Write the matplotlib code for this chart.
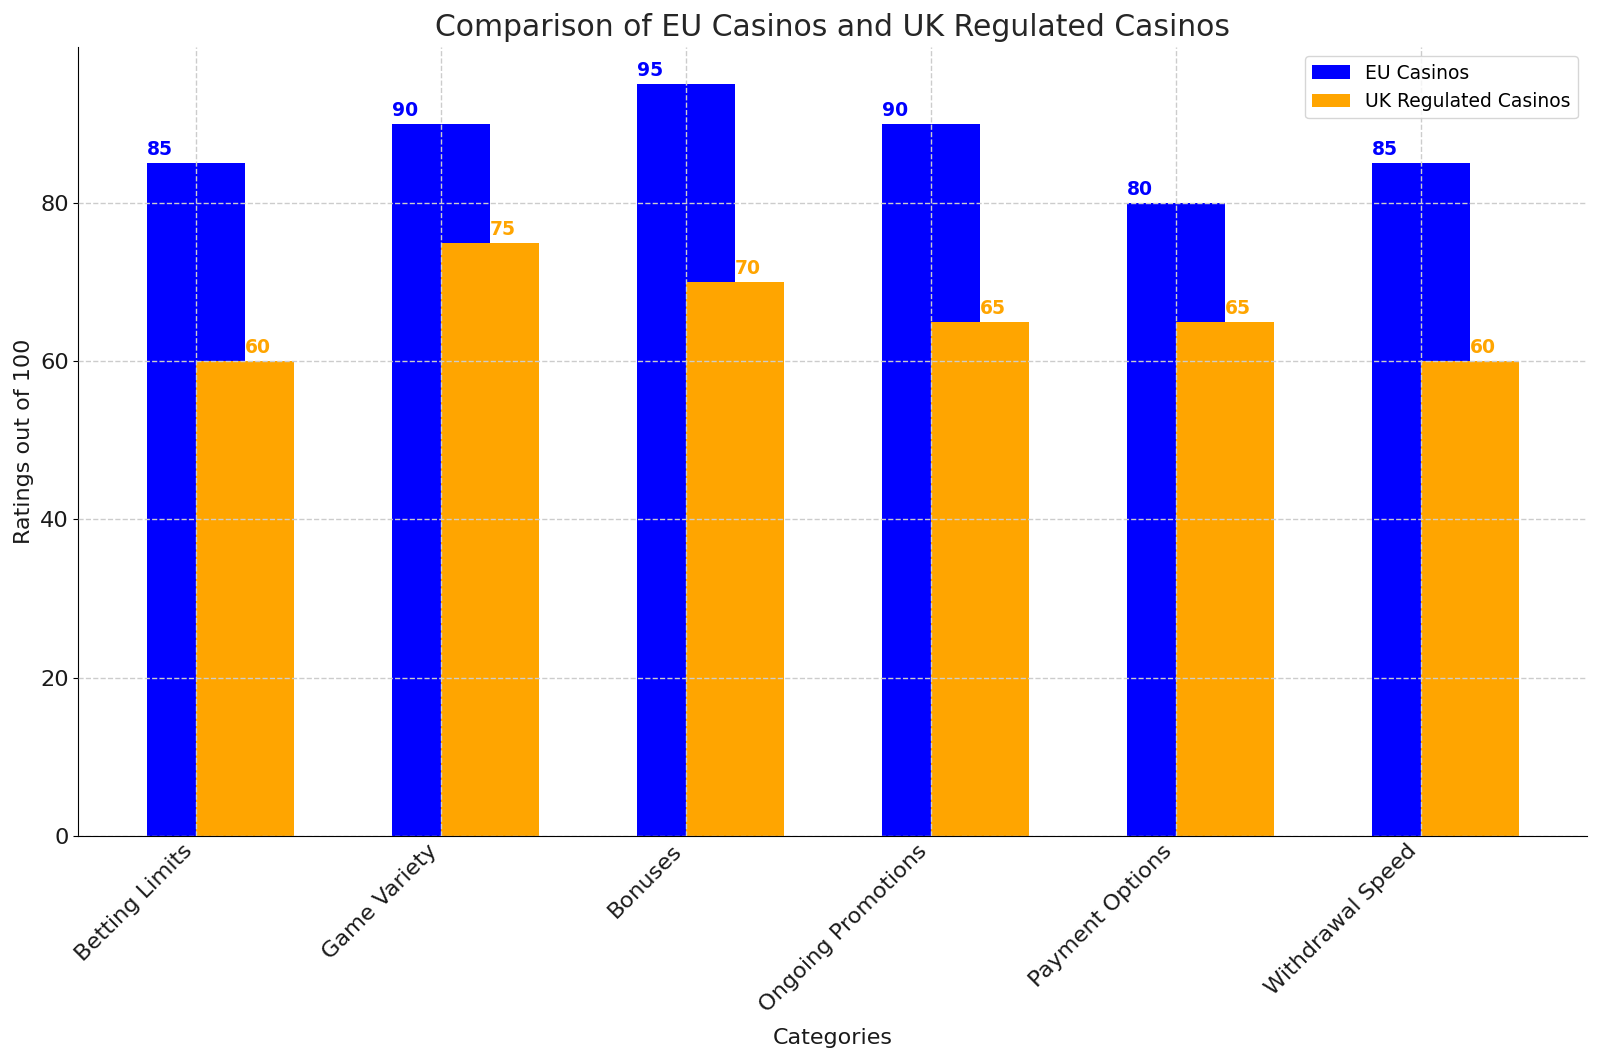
import numpy as np
import matplotlib.pyplot as plt

categories = ['Betting Limits', 'Game Variety', 'Bonuses', 'Ongoing Promotions',
              'Payment Options', 'Withdrawal Speed']
eu_casinos = [85, 90, 95, 90, 80, 85]
uk_casinos = [60, 75, 70, 65, 65, 60]

x = np.arange(len(categories))
width = 0.4

fig, ax = plt.subplots(figsize=(16, 10.62), dpi=100)
fig.subplots_adjust(left=0.049, right=0.992, bottom=0.213, top=0.956)

ax.bar(x, eu_casinos, width, color='blue', label='EU Casinos')
ax.bar(x + width / 2, uk_casinos, width, color='orange', label='UK Regulated Casinos')

# value labels
for i in range(len(categories)):
    ax.text(x[i] - width / 2, eu_casinos[i] + 0.5, str(eu_casinos[i]), color='blue',
            fontweight='bold', fontsize=13.5, ha='left', va='bottom')
    ax.text(x[i] + width / 2, uk_casinos[i] + 0.5, str(uk_casinos[i]), color='orange',
            fontweight='bold', fontsize=13.5, ha='left', va='bottom')

ax.set_title('Comparison of EU Casinos and UK Regulated Casinos', fontsize=21.5, color='#262626', pad=8)
ax.set_xlabel('Categories', fontsize=16, color='#1a1a1a', labelpad=9)
ax.set_ylabel('Ratings out of 100', fontsize=16, color='#1a1a1a')
ax.set_xticks(x)
ax.set_xticklabels(categories, rotation=45, ha='right', fontsize=16.2, color='#1a1a1a')
ax.tick_params(axis='y', labelsize=16.2, labelcolor='#1a1a1a')
ax.tick_params(axis='x', length=0)

ax.spines['top'].set_visible(False)
ax.spines['right'].set_visible(False)
ax.set_axisbelow(False)
ax.grid(True, linestyle='--', color='#cccccc', linewidth=1)

ax.legend(loc='upper right', fontsize=13.5)

plt.savefig('out.png')
